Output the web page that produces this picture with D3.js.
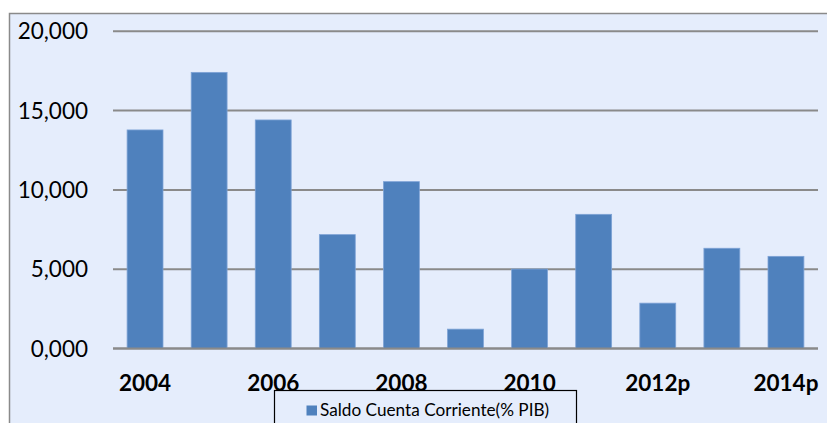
<!DOCTYPE html>
<html>
<head>
<meta charset="utf-8">
<script src="https://cdn.jsdelivr.net/npm/d3@7"></script>
<style>
  body { margin: 0; background: #fff; }
  svg { display: block; }
  text { font-family: Lato, "Open Sans", sans-serif; }
</style>
</head>
<body>
<svg id="chart" width="827" height="423"></svg>
<script>
// data
var years = ["2004", "2005", "2006", "2007", "2008", "2009", "2010", "2011", "2012p", "2013p", "2014p"];
var saldo = [13.78, 17.41, 14.41, 7.18, 10.52, 1.22, 5.01, 8.46, 2.86, 6.32, 5.81];
var yTicks = [0, 5, 10, 15, 20];
var shownYears = ["2004", "2006", "2008", "2010", "2012p", "2014p"];
var legendLabel = "Saldo Cuenta Corriente(% PIB)";

var barColor = "#4f81bd";
var panelColor = "#e5edfc";
var gridColor = "#8a8a8a";

var svg = d3.select("#chart");

// panel background + border (right/bottom run off the page)
svg.append("rect")
  .attr("x", 9.5).attr("y", 13.5)
  .attr("width", 830).attr("height", 420)
  .attr("fill", panelColor)
  .attr("stroke", gridColor)
  .attr("stroke-width", 1.5);

var x = d3.scaleBand()
  .domain(years)
  .range([113, 818])
  .paddingInner(0.44)
  .paddingOuter(0.22);

var y = d3.scaleLinear()
  .domain([0, 20])
  .range([348.5, 31.3]);

// gridlines
svg.append("g")
  .selectAll("line")
  .data(yTicks)
  .enter().append("line")
  .attr("x1", 113).attr("x2", 818)
  .attr("y1", function(d) { return y(d); })
  .attr("y2", function(d) { return y(d); })
  .attr("stroke", gridColor)
  .attr("stroke-width", 2);

// y labels, spanish style "20,000"
var fmt = function(d) { return d3.format(".3f")(d).replace(".", ","); };
svg.append("g")
  .selectAll("text")
  .data(yTicks)
  .enter().append("text")
  .attr("x", 88)
  .attr("y", function(d) { return y(d) + 8; })
  .attr("text-anchor", "end")
  .attr("font-size", 22.5)
  .attr("fill", "#000")
  .text(fmt);

// bars
svg.append("g")
  .selectAll("rect")
  .data(saldo)
  .enter().append("rect")
  .attr("x", function(d, i) { return x(years[i]); })
  .attr("y", function(d) { return y(d); })
  .attr("width", x.bandwidth())
  .attr("height", function(d) { return y(0) - y(d); })
  .attr("fill", barColor)
  .attr("stroke", "#7ea3d6")
  .attr("stroke-width", 0.8);

// baseline
svg.append("line")
  .attr("x1", 113).attr("x2", 818)
  .attr("y1", y(0)).attr("y2", y(0))
  .attr("stroke", gridColor)
  .attr("stroke-width", 2);

// x labels (every other year)
svg.append("g")
  .selectAll("text")
  .data(shownYears)
  .enter().append("text")
  .attr("x", function(d) { return x(d) + x.bandwidth() / 2; })
  .attr("y", 391)
  .attr("text-anchor", "middle")
  .attr("font-size", 22.5)
  .attr("font-weight", "bold")
  .attr("fill", "#000")
  .text(function(d) { return d; });

// legend
var lg = svg.append("g");
lg.append("rect")
  .attr("x", 274.5).attr("y", 390.5)
  .attr("width", 302).attr("height", 60)
  .attr("fill", panelColor)
  .attr("stroke", "#000")
  .attr("stroke-width", 1.2);
lg.append("rect")
  .attr("x", 306.5).attr("y", 405.5)
  .attr("width", 10.5).attr("height", 10)
  .attr("fill", barColor);
lg.append("text")
  .attr("x", 320)
  .attr("y", 416)
  .attr("font-size", 17.2)
  .attr("fill", "#000")
  .text(legendLabel);
</script>
</body>
</html>
